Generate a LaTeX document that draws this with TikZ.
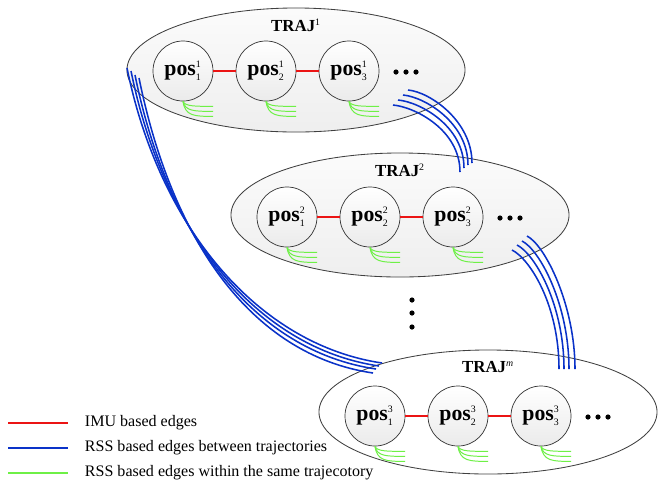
\documentclass[tikz,border=0pt]{standalone}
\usepackage{fontspec}
\setmainfont{Liberation Serif}
\usetikzlibrary{shapes.geometric}

\definecolor{imured}{RGB}{235,20,20}
\definecolor{rssblue}{RGB}{10,50,200}
\definecolor{rssgreen}{RGB}{110,240,70}

\newcommand{\supsz}{\fontsize{7}{8}\selectfont}
\newcommand{\posl}[2]{$\textbf{pos}^{\mbox{\supsz #1}}_{\mbox{\supsz #2}}$}

\tikzset{
  trajbox/.style={ellipse, draw=black!75, line width=0.6pt, minimum width=8.45cm,
    minimum height=3.1cm, inner sep=0pt, outer sep=0pt},
  posnode/.style={circle, draw=black!80, line width=0.5pt, minimum size=1.5cm,
    inner sep=0pt, top color=white, bottom color=gray!16,
    font=\fontsize{15.5}{16}\selectfont},
  trajlabel/.style={font=\fontsize{12}{13}\selectfont},
  imu/.style={imured, line width=1.2pt},
  rssb/.style={rssblue, line width=1.1pt},
  rssw/.style={rssgreen, line width=0.7pt},
  legtext/.style={anchor=west, font=\fontsize{11.4}{12}\selectfont}
}

\begin{document}
\begin{tikzpicture}[x=0.025cm, y=-0.025cm]
  \useasboundingbox (0,0) rectangle (659,483);

  % trajectories
  \node (traj1) at (296,70) [trajbox, top color=gray!3, bottom color=gray!13] {};
  \node (traj2) at (400,215) [trajbox, top color=gray!3, bottom color=gray!13] {};
  \node (trajm) at (488,412) [trajbox, fill=white] {};

  \node (lab1) at (296,25) [trajlabel] {\textbf{TRAJ}$^{\mbox{\supsz 1}}$};
  \node (lab2) at (400,170) [trajlabel] {\textbf{TRAJ}$^{\mbox{\supsz 2}}$};
  \node (labm) at (488,367) [trajlabel] {\textbf{TRAJ}$^{\mbox{\supsz\itshape m}}$};

  % positions
  \foreach \t/\s/\cx/\cy in {1/1/296/71, 2/2/400/217, 3/3/488/416} {
    \foreach \i/\dx in {1/-113, 2/-30, 3/53}
      \node (p\t\i) at (\cx+\dx,\cy) [posnode] {\posl{\s}{\i}};
    \draw[imu] (p\t1) -- (p\t2);
    \draw[imu] (p\t2) -- (p\t3);
    \foreach \dx in {100,110,120}
      \fill (\cx+\dx,\cy+1) circle (2.6);
    % edges inside the same trajectory
    \foreach \i in {1,2,3}
      \foreach \dy in {5,10,15}
        \draw[rssw] (p\t\i.south) .. controls +(2,\dy) and +(-18,0) .. ++(30,\dy);
  }

  % vertical dots
  \foreach \y in {300,313,327}
    \fill (412,\y) circle (2.6);

  % edges between trajectories
  \foreach \k/\sx/\sy/\ex/\ey in {1/127/68/382/363, 2/131/71/379/366,
                                  3/135/75/376/369, 4/139/78/373/373} {
    \coordinate (a\k) at (\sx,\sy);
    \coordinate (b\k) at (\ex,\ey);
    \draw[rssb] (a\k) .. controls +(33,162) and +(-122,-18) .. (b\k);
  }
  \foreach \k/\sx/\sy/\ex/\ey in {1/408/90/472/163, 2/403/95/468/165,
                                  3/398/100/464/168, 4/393/105/460/172} {
    \coordinate (c\k) at (\sx,\sy);
    \coordinate (d\k) at (\ex,\ey);
    \draw[rssb] (c\k) .. controls +(22,2) and +(0,-42) .. (d\k);
  }
  \foreach \k/\sx/\sy/\ex/\ey in {1/527/236/575/369, 2/522/241/569/369,
                                  3/517/245/564/369, 4/512/250/559/369} {
    \coordinate (e\k) at (\sx,\sy);
    \coordinate (f\k) at (\ex,\ey);
    \draw[rssb] (e\k) .. controls +(18,9) and +(0,-64) .. (f\k);
  }

  % legend
  \coordinate (l1a) at (8,423);  \coordinate (l1b) at (68,423);
  \coordinate (l2a) at (8,448);  \coordinate (l2b) at (68,448);
  \coordinate (l3a) at (8,473);  \coordinate (l3b) at (68,473);
  \draw[imured, line width=0.9pt] (l1a) -- (l1b);
  \draw[rssblue, line width=0.9pt] (l2a) -- (l2b);
  \draw[rssgreen, line width=0.9pt] (l3a) -- (l3b);
  \node (t1) at (80,423) [legtext] {IMU based edges};
  \node (t2) at (80,448) [legtext] {RSS based edges between trajectories};
  \node (t3) at (80,473) [legtext] {RSS based edges within the same trajecotory};
\end{tikzpicture}
\end{document}
